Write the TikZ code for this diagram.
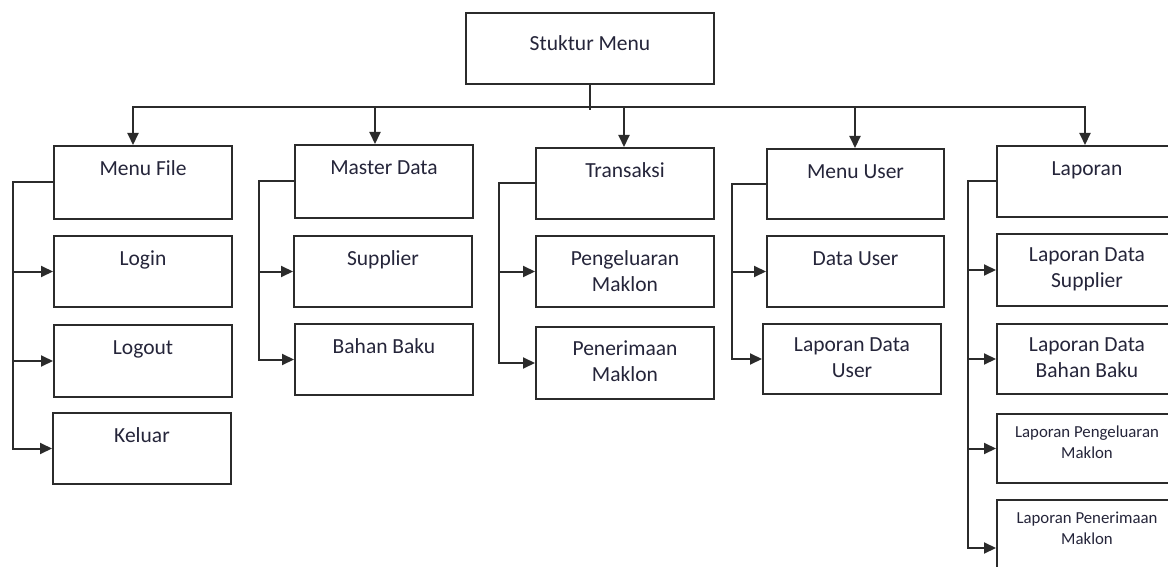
\documentclass[tikz,border=0pt]{standalone}
\usepackage{fontspec}
\setmainfont{Carlito}
\usetikzlibrary{arrows.meta}
\definecolor{linec}{HTML}{2B2B2B}
\definecolor{textc}{HTML}{25253A}
\newcommand\bigtxt{\fontsize{21.5}{26}\selectfont}
\newcommand\smalltxt{\fontsize{16.8}{21}\selectfont}
\tikzset{
  box/.style={draw=linec, line width=2pt, anchor=north west, inner sep=0pt, fill=white},
  txt/.style={font=\bigtxt, text=textc, align=center, inner sep=0pt, anchor=north,
    execute at begin node={\rule{0pt}{15pt}}},
  stxt/.style={font=\smalltxt, text=textc, align=center, inner sep=0pt, anchor=north,
    execute at begin node={\rule{0pt}{12pt}}},
  link/.style={draw=linec, line width=2pt},
  tip/.tip={Triangle[length=12pt,width=11pt]},
  arr/.style={link, -tip},
}
\begin{document}
\begin{tikzpicture}[x=1pt, y=-1pt]
\useasboundingbox (0,0) rectangle (1168,567);
\clip (0,0) rectangle (1168,567);

% root
\node[box, minimum width=248, minimum height=71] (root) at (465,12) {};
\node[txt] (root-t) at ([yshift=-23pt]root.north) {Stuktur Menu};

% column 1: Menu File
\node[box, minimum width=178, minimum height=73] (mf) at (53,145) {};
\node[box, minimum width=178, minimum height=71] (login) at (53,235) {};
\node[box, minimum width=178, minimum height=72] (logout) at (53,324) {};
\node[box, minimum width=178, minimum height=71] (keluar) at (52,412) {};
\node[txt] (mf-t) at ([yshift=-15pt]mf.north) {Menu File};
\node[txt] (login-t) at ([yshift=-15pt]login.north) {Login};
\node[txt] (logout-t) at ([yshift=-15pt]logout.north) {Logout};
\node[txt] (keluar-t) at ([yshift=-15pt]keluar.north) {Keluar};

% column 2: Master Data
\node[box, minimum width=178, minimum height=73] (md) at (294,144) {};
\node[box, minimum width=178, minimum height=71] (sup) at (293,235) {};
\node[box, minimum width=178, minimum height=71] (bb) at (294,323) {};
\node[txt] (md-t) at ([yshift=-15pt]md.north) {Master Data};
\node[txt] (sup-t) at ([yshift=-15pt]sup.north) {Supplier};
\node[txt] (bb-t) at ([yshift=-15pt]bb.north) {Bahan Baku};

% column 3: Transaksi
\node[box, minimum width=178, minimum height=71] (tr) at (535,147) {};
\node[box, minimum width=178, minimum height=71] (pm) at (535,235) {};
\node[box, minimum width=178, minimum height=72] (pn) at (535,326) {};
\node[txt] (tr-t) at ([yshift=-15pt]tr.north) {Transaksi};
\node[txt] (pm-t) at ([yshift=-15pt]pm.north) {Pengeluaran\\Maklon};
\node[txt] (pn-t) at ([yshift=-15pt]pn.north) {Penerimaan\\Maklon};

% column 4: Menu User
\node[box, minimum width=177, minimum height=70] (mu) at (766,148) {};
\node[box, minimum width=177, minimum height=71] (du) at (766,235) {};
\node[box, minimum width=178, minimum height=70] (ldu) at (762,323) {};
\node[txt] (mu-t) at ([yshift=-15pt]mu.north) {Menu User};
\node[txt] (du-t) at ([yshift=-15pt]du.north) {Data User};
\node[txt] (ldu-t) at ([yshift=-15pt]ldu.north) {Laporan Data\\User};

% column 5: Laporan
\node[box, minimum width=180, minimum height=71] (lap) at (996,145) {};
\node[box, minimum width=180, minimum height=72] (lds) at (996,233) {};
\node[box, minimum width=180, minimum height=70] (ldbb) at (996,323) {};
\node[box, minimum width=180, minimum height=69] (lpm) at (996,413) {};
\node[box, minimum width=180, minimum height=96] (lpen) at (996,499) {};
\node[txt] (lap-t) at ([yshift=-15pt]lap.north) {Laporan};
\node[txt] (lds-t) at ([yshift=-15pt]lds.north) {Laporan Data\\Supplier};
\node[txt] (ldbb-t) at ([yshift=-15pt]ldbb.north) {Laporan Data\\Bahan Baku};
\node[stxt] (lpm-t) at ([yshift=-12.5pt]lpm.north) {Laporan Pengeluaran\\Maklon};
\node[stxt] (lpen-t) at ([yshift=-12.5pt]lpen.north) {Laporan Penerimaan\\Maklon};

% bus from the root to the five menus
\coordinate (b1) at (133,107);
\coordinate (b5) at (1085,107);
\coordinate (stem) at (589,110);
\draw[link] (root.south) -- (root.south |- stem);
\draw[link, tip-tip] (b1 |- mf.north) -- (b1) -- (b5) -- (b5 |- lap.north);
\draw[arr] (375,107) -- (375,0 |- md.north);
\draw[arr] (624,107) -- (624,0 |- tr.north);
\draw[arr] (855,107) -- (855,0 |- mu.north);

% spines to the sub-menus
\coordinate (s1) at (13,0);
\coordinate (s2) at (259,0);
\coordinate (s3) at (499,0);
\coordinate (s4) at (732,0);
\coordinate (s5) at (968,0);

\draw[arr] (mf.west) -| (s1 |- keluar.west) -- (keluar.west);
\draw[arr] (s1 |- login.west) -- (login.west);
\draw[arr] (s1 |- logout.west) -- (logout.west);

\draw[arr] (md.west) -| (s2 |- bb.west) -- (bb.west);
\draw[arr] (s2 |- sup.west) -- (sup.west);

\draw[arr] (tr.west) -| (s3 |- pn.west) -- (pn.west);
\draw[arr] (s3 |- pm.west) -- (pm.west);

\draw[arr] (mu.west) -| (s4 |- ldu.west) -- (ldu.west);
\draw[arr] (s4 |- du.west) -- (du.west);

\draw[arr] (lap.west) -| (s5 |- lpen.west) -- (lpen.west);
\draw[arr] (s5 |- lds.west) -- (lds.west);
\draw[arr] (s5 |- ldbb.west) -- (ldbb.west);
\draw[arr] (s5 |- lpm.west) -- (lpm.west);
\end{tikzpicture}
\end{document}
